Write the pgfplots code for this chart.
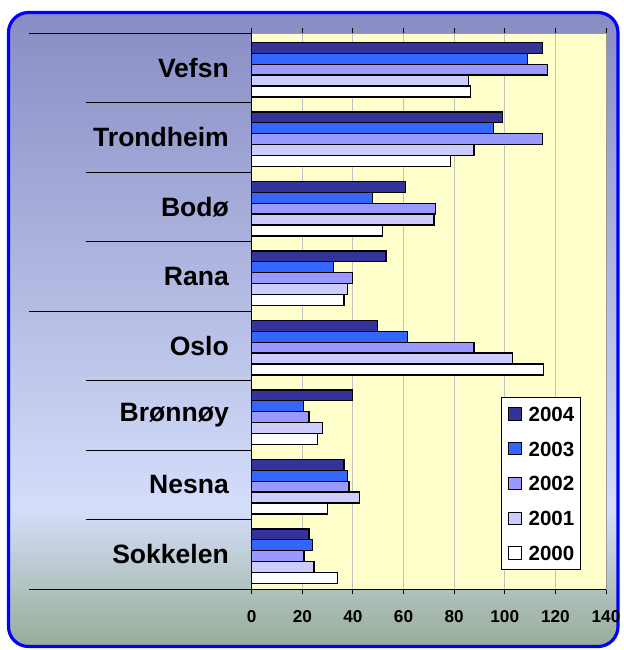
\documentclass[border=0pt]{standalone}
\usepackage{fontspec}
\setmainfont{Liberation Sans}
\usepackage{pgfplots}
\pgfplotsset{compat=1.18}

\definecolor{bgtop}{RGB}{136,140,196}
\definecolor{bglight}{RGB}{212,222,250}
\definecolor{bgbot}{RGB}{152,172,150}
\definecolor{plotbg}{RGB}{255,255,204}
\definecolor{cA}{RGB}{51,51,153}
\definecolor{cB}{RGB}{51,102,255}
\definecolor{cC}{RGB}{153,153,255}
\definecolor{cD}{RGB}{204,204,255}
\definecolor{cE}{RGB}{255,255,255}
\definecolor{frameblue}{RGB}{0,0,255}
\definecolor{gridgray}{RGB}{192,192,192}

\pgfdeclareverticalshading{bgshade}{100bp}{color(0bp)=(bgbot); color(25bp)=(bgbot); color(35.8bp)=(bglight); color(75bp)=(bgtop); color(100bp)=(bgtop)}

\begin{document}
\begin{tikzpicture}
\begin{scope}[x=0.75pt,y=0.75pt]
\fill[white] (0,0) rectangle (624,650);
\shade[shading=bgshade, rounded corners=15pt] (8.5,3.5) rectangle (618,637.5);
\draw[frameblue, line width=2.4pt, rounded corners=15pt] (8.5,3.5) rectangle (618,637.5);
\end{scope}
\begin{axis}[
  at={(188.8pt,45.75pt)}, anchor=south west,
  scale only axis, width=265.7pt, height=417pt,
  xmin=0, xmax=140, ymin=-0.5, ymax=7.5,
  xbar, bar width=0.157,
  clip=false,
  axis background/.style={fill=plotbg},
  axis line style={draw=gray!80, line width=0.75pt},
  xtick={0,20,...,140},
  xmajorgrids,
  grid style={draw=gridgray, line width=0.75pt},
  tick align=outside, major tick length=3.75pt,
  xtick style={black, line width=0.75pt},
  ytick={0,...,7},
  yticklabels={Sokkelen,Nesna,Brønnøy,Oslo,Rana,Bodø,Trondheim,Vefsn},
  ytick style={draw=none},
  yticklabel style={font=\bfseries\fontsize{19.9}{21}\selectfont, inner sep=0pt, anchor=east, xshift=-13.25pt},
  xticklabel style={font=\bfseries\fontsize{12.9}{13}\selectfont, inner sep=0pt, anchor=north, yshift=-12pt},
  /pgf/number format/assume math mode=true,
  legend style={at={(rel axis cs:0.7037,0.3459)}, anchor=north west,
    draw=black, line width=0.75pt, fill=white,
    font=\bfseries\fontsize{15.4}{16}\selectfont,
    inner xsep=5pt, inner ysep=7.15pt, row sep=15.05pt, column sep=5.25pt,
    nodes={inner sep=0pt, text height=11pt, text depth=0pt, anchor=base west}},
  legend image code/.code={\draw[#1, draw=black, line width=0.75pt] (0pt,0.85pt) rectangle (9.3pt,10.15pt);},
]
\addplot[fill=cA, draw=black, line width=1pt, bar shift=0.286] coordinates {
 (114.8,7) (99.0,6) (60.7,5) (53.1,4) (49.6,3) (39.9,2) (36.5,1) (22.6,0)};
\addplot[fill=cB, draw=black, line width=1pt, bar shift=0.129] coordinates {
 (109.0,7) (95.6,6) (47.6,5) (32.4,4) (61.6,3) (20.5,2) (37.8,1) (24.0,0)};
\addplot[fill=cC, draw=black, line width=1pt, bar shift=-0.028] coordinates {
 (116.8,7) (114.8,6) (72.7,5) (39.7,4) (87.8,3) (22.6,2) (38.4,1) (20.7,0)};
\addplot[fill=cD, draw=black, line width=1pt, bar shift=-0.185] coordinates {
 (85.7,7) (87.8,6) (72.0,5) (37.8,4) (103.0,3) (27.9,2) (42.5,1) (24.6,0)};
\addplot[fill=cE, draw=black, line width=1pt, bar shift=-0.342] coordinates {
 (86.4,7) (78.5,6) (51.6,5) (36.5,4) (115.4,3) (25.9,2) (29.9,1) (33.8,0)};
\legend{2004,2003,2002,2001,2000}
\draw[black, line width=0.75pt] (rel axis cs:0,0) -- (rel axis cs:0,1);
\draw[black, line width=0.75pt] (rel axis cs:0,0) -- (rel axis cs:1,0);
\draw[black, line width=0.75pt] (axis cs:0,7.5) -- ++(-167pt,0pt);
\draw[black, line width=0.75pt] (axis cs:0,3.5) -- ++(-167pt,0pt);
\draw[black, line width=0.75pt] (axis cs:0,-0.5) -- ++(-167pt,0pt);
\draw[black, line width=0.75pt] (axis cs:0,6.5) -- ++(-124.3pt,0pt);
\draw[black, line width=0.75pt] (axis cs:0,5.5) -- ++(-124.3pt,0pt);
\draw[black, line width=0.75pt] (axis cs:0,4.5) -- ++(-124.3pt,0pt);
\draw[black, line width=0.75pt] (axis cs:0,2.5) -- ++(-124.3pt,0pt);
\draw[black, line width=0.75pt] (axis cs:0,1.5) -- ++(-124.3pt,0pt);
\draw[black, line width=0.75pt] (axis cs:0,0.5) -- ++(-124.3pt,0pt);
\end{axis}
\pgfresetboundingbox
\path (0,0) rectangle (468pt,487.5pt);
\end{tikzpicture}
\end{document}
